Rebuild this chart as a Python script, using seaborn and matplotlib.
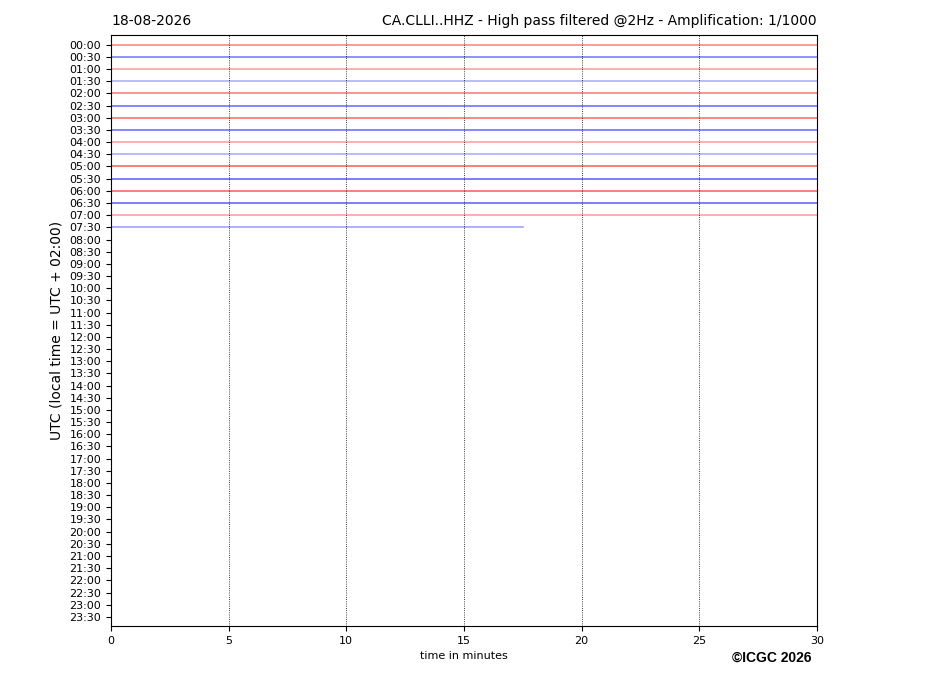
import numpy as np
import pandas as pd
import matplotlib
matplotlib.use("Agg")
import matplotlib.pyplot as plt
import seaborn as sns

# half-hour rows of the helicorder
row_labels = [f"{h:02d}:{m:02d}" for h in range(24) for m in (0, 30)]

# traces recorded so far: end minute of each row and how strong it looks
trace_end = [30, 30, 30, 30, 30, 30, 30, 30, 30, 30, 30, 30, 30, 30, 30, 17.5]
trace_alpha = [0.5, 0.55, 0.4, 0.35, 0.55, 0.6, 0.6, 0.6,
               0.4, 0.35, 0.65, 0.65, 0.65, 0.65, 0.4, 0.4]
trace_color = ["red", "blue"] * 8

date_txt = "18-08-2026"
title_txt = "CA.CLLI..HHZ - High pass filtered @2Hz - Amplification: 1/1000"

fig = plt.figure(figsize=(9.27, 6.96), dpi=100)
ax = fig.add_axes([0.1197, 0.1006, 0.7616, 0.8491])

rows = []
for i, end in enumerate(trace_end):
    rows.append({"minute": 0.0, "row": i, "trace": i})
    rows.append({"minute": end, "row": i, "trace": i})
df = pd.DataFrame(rows)

for i in range(len(trace_end)):
    sub = df[df["trace"] == i]
    sns.lineplot(data=sub, x="minute", y="row", ax=ax, color=trace_color[i],
                 alpha=trace_alpha[i], lw=1.1, estimator=None, sort=False)

for xv in [5, 10, 15, 20, 25]:
    ax.axvline(xv, color="black", ls=":", lw=0.6)

ax.set_xlim(0, 30)
ax.set_ylim(47.75, -0.8)
ax.set_xticks([0, 5, 10, 15, 20, 25, 30])
ax.set_yticks(range(len(row_labels)))
ax.set_yticklabels(row_labels)
ax.tick_params(axis="both", labelsize=8)
ax.set_xlabel("time in minutes", fontsize=8)
ax.set_ylabel("UTC (local time = UTC + 02:00)", fontsize=10)

ax.set_title(date_txt, loc="left", fontsize=10, pad=7)
ax.set_title(title_txt, loc="right", fontsize=10, pad=7)

fig.text(0.875, 0.0546, "©ICGC 2026", ha="right", va="center", fontsize=10,
         fontweight="bold", family="Liberation Sans")

fig.savefig("out.png", dpi=100)
